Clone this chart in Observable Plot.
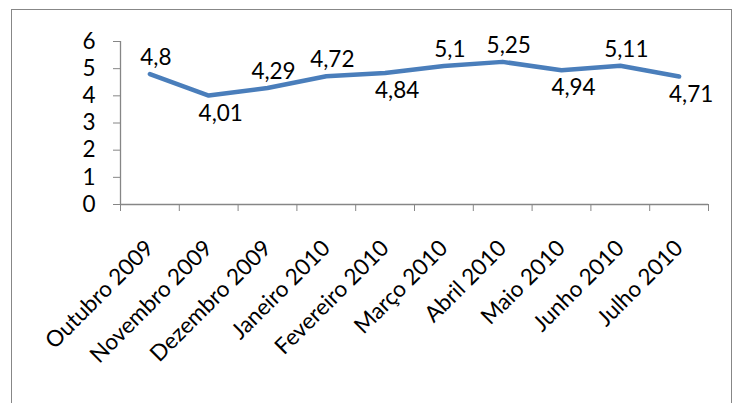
<!DOCTYPE html>
<html>
<head>
<meta charset="utf-8">
<script src="https://cdn.jsdelivr.net/npm/d3@7"></script>
<script src="https://cdn.jsdelivr.net/npm/@observablehq/plot@0.6"></script>
<style>
  html, body { margin: 0; padding: 0; background: #fff; overflow: hidden; }
  #wrap { position: relative; width: 735px; height: 403px; }
  #frame { position: absolute; left: 11px; top: 9px; width: 721px; height: 420px; border: 1px solid #878787; box-sizing: border-box; }
  #chart { position: absolute; left: 0; top: 0; }
</style>
</head>
<body>
<div id="wrap"><div id="frame"></div><div id="chart"></div></div>
<script>
const months = ["Outubro 2009", "Novembro 2009", "Dezembro 2009", "Janeiro 2010", "Fevereiro 2010",
                "Março 2010", "Abril 2010", "Maio 2010", "Junho 2010", "Julho 2010"];
const values = [4.8, 4.01, 4.29, 4.72, 4.84, 5.1, 5.25, 4.94, 5.11, 4.71];
const labelSide = ["above", "below", "above", "above", "below", "above", "above", "below", "above", "below"];
const yTicks = [0, 1, 2, 3, 4, 5, 6];

const data = months.map((m, i) => ({i, month: m, value: values[i], side: labelSide[i]}));
const fmt = v => String(v).replace(".", ",");
const axisGray = "#868686";
const fs = 22.5;

const chart = Plot.plot({
  width: 735,
  height: 403,
  marginLeft: 120,
  marginRight: 27,
  marginTop: 41,
  marginBottom: 199,
  x: {type: "linear", domain: [-0.5, months.length - 0.5]},
  y: {domain: [0, 6]},
  style: {fontFamily: "Lato", fontSize: fs + "px", color: "black", background: "transparent"},
  marks: [
    Plot.ruleY([0], {stroke: axisGray, strokeWidth: 1.3}),
    Plot.ruleX([-0.5], {stroke: axisGray, strokeWidth: 1.3}),
    Plot.axisY({ticks: yTicks, tickFormat: d => String(d), tickSize: 7, tickPadding: 18, stroke: axisGray, label: null, fontSize: fs}),
    Plot.axisX({ticks: d3.range(-0.5, months.length, 1), tickSize: 7, tickFormat: () => "", stroke: axisGray, label: null}),
    Plot.axisX({ticks: months.map((m, i) => i), tickSize: 0, tickFormat: i => months[i], tickRotate: -45, tickPadding: 40, dx: 0, label: null, fontSize: fs}),
    Plot.line(data, {x: "i", y: "value", stroke: "#4a7ebb", strokeWidth: 4.5, strokeLinecap: "round", strokeLinejoin: "round"}),
    Plot.text(data.filter(d => d.side === "above"), {x: "i", y: "value", text: d => fmt(d.value), dy: -16, dx: 6, fontSize: fs, fill: "black"}),
    Plot.text(data.filter(d => d.side === "below"), {x: "i", y: "value", text: d => fmt(d.value), dy: 18, dx: 12, fontSize: fs, fill: "black"})
  ]
});
document.getElementById("chart").appendChild(chart);
</script>
</body>
</html>
